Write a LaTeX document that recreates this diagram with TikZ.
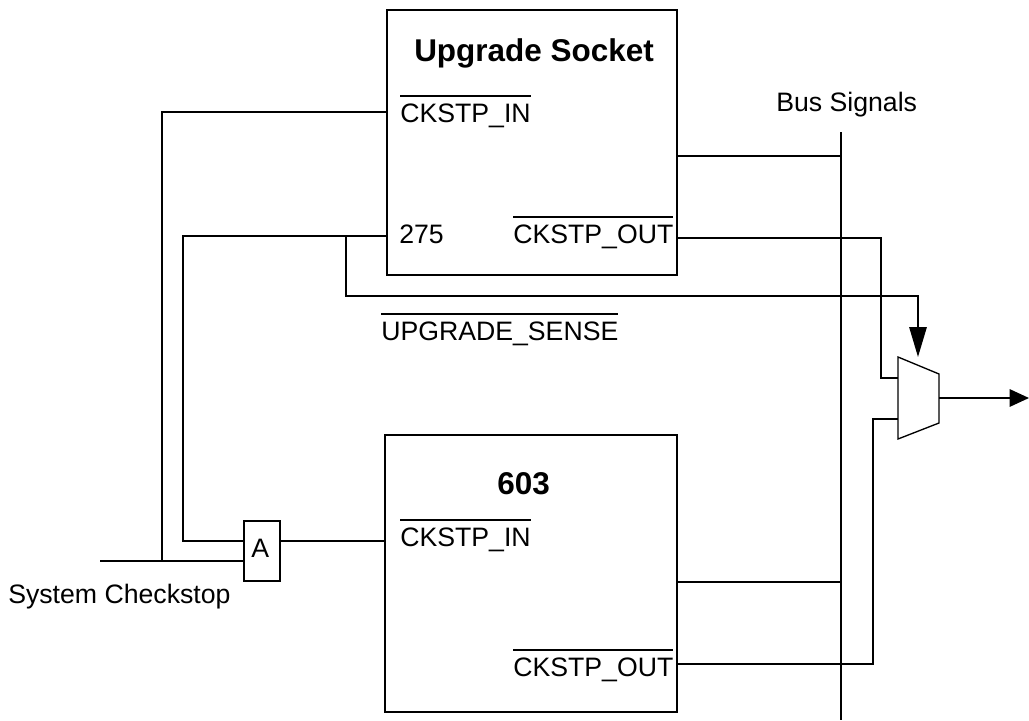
\documentclass[tikz,border=0pt]{standalone}
\usepackage{fontspec}
\setmainfont{Liberation Sans}
\usetikzlibrary{arrows.meta}
\newsavebox{\ovlbox}
\newcommand{\ovltext}[1]{\sbox{\ovlbox}{#1}\rlap{\raisebox{0.92em}{\rule{\wd\ovlbox}{1.5pt}}}\usebox{\ovlbox}}
\tikzset{
  x=0.75pt,y=-0.75pt,
  wire/.style={line width=1.5pt},
  blockbox/.style={draw,line width=1.5pt,inner sep=0pt,outer sep=0pt,anchor=north west},
  title/.style={inner sep=0pt,anchor=base west,font=\fontsize{23.6}{28}\selectfont\bfseries},
  pin/.style={inner sep=0pt,anchor=base west,font=\fontsize{20}{24}\selectfont},
  bighead/.style={-{Triangle[length=22.5pt,width=13pt]}},
  outhead/.style={-{Triangle[length=14.5pt,width=13pt]}},
}
\begin{document}
\begin{tikzpicture}
\useasboundingbox (0,0) rectangle (1029,721);
% blocks
\node[blockbox,minimum width=217.5pt,minimum height=198.75pt] (sock) at (387,10) {};
\node[blockbox,minimum width=219pt,minimum height=207.75pt] (cpu) at (385,435) {};
\node[blockbox,minimum width=27pt,minimum height=45pt] (andg) at (244,521) {};
\node[pin] at (251,557) {A};
% multiplexer
\coordinate (mA) at (898,357);
\coordinate (mB) at (939,374);
\coordinate (mC) at (939,423);
\coordinate (mD) at (898,439);
\draw[line width=1pt] (mA) -- (mB) -- (mC) -- (mD) -- cycle;
\coordinate (mIn1) at (898,378);
\coordinate (mIn2) at (898,419);
\coordinate (mOut) at (939,398);
\coordinate (mTop) at (918,357);
% bus
\coordinate (busT) at (841,132);
\coordinate (busB) at (841,720);
\draw[wire] (busT) -- (busB);
% free ends and junctions
\coordinate (outEnd) at (1029,398);
\coordinate (sysStart) at (100,561);
\coordinate (sysJ) at (162,561);
\coordinate (andIn1) at (244,541);
\coordinate (andIn2) at (244,561);
\coordinate (andOut) at (280,541);
\coordinate (cpuIn) at (385,541);
\coordinate (sockIn) at (387,112);
\coordinate (sock275) at (387,236);
\coordinate (sockBus) at (677,156);
\coordinate (sockOut) at (677,238);
\coordinate (cpuBus) at (677,582);
\coordinate (cpuOut) at (677,664);
% wires
\draw[wire] (sockIn) -| (sysJ);
\draw[wire] (sysStart) -- (andIn2);
\draw[wire] (sock275) -- (183,236) |- (andIn1);
\draw[wire] (andOut) -- (cpuIn);
\draw[wire] (sockBus) -- (sockBus -| busT);
\draw[wire] (cpuBus) -- (cpuBus -| busT);
\draw[wire] (sockOut) -- (881,238) |- (mIn1);
\draw[wire] (cpuOut) -- (873,664) |- (mIn2);
\draw[wire,bighead] (346,236) -- (346,296) -- (918,296) -- (mTop);
\draw[wire,outhead] (mOut) -- (outEnd);
% text
\node[title] at (414,61) {Upgrade Socket};
\node[title] at (497,494) {603};
\node[pin] at (400,122) {\ovltext{CKSTP\_IN}};
\node[pin] at (400,546) {\ovltext{CKSTP\_IN}};
\node[pin] at (399,243) {275};
\node[pin] at (513,243) {\ovltext{CKSTP\_OUT}};
\node[pin] at (513,676) {\ovltext{CKSTP\_OUT}};
\node[pin] at (381,340) {\ovltext{UPGRADE\_SENSE}};
\node[pin] at (776,111) {Bus Signals};
\node[pin] at (8,603) {System Checkstop};
\end{tikzpicture}
\end{document}
